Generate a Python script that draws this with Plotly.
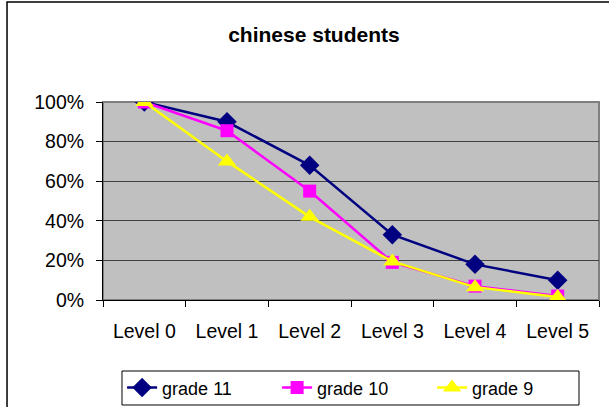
import plotly.graph_objects as go

categories = ["Level 0", "Level 1", "Level 2", "Level 3", "Level 4", "Level 5"]
grade11 = [100, 90, 68, 33, 18, 10]
grade10 = [100, 85.5, 55, 19, 7, 2]
grade9 = [100, 70, 42, 19.5, 6.5, 1.5]
y_ticks = [0, 20, 40, 60, 80, 100]
y_labels = ["0%", "20%", "40%", "60%", "80%", "100%"]

fig = go.Figure()
fig.add_trace(go.Scatter(x=categories, y=grade11, name="grade 11", mode="lines+markers",
                         line=dict(color="#000080", width=2.5),
                         marker=dict(symbol="diamond", size=15, color="#000080")))
fig.add_trace(go.Scatter(x=categories, y=grade10, name="grade 10", mode="lines+markers",
                         line=dict(color="#FF00FF", width=2.5),
                         marker=dict(symbol="square", size=13, color="#FF00FF")))
fig.add_trace(go.Scatter(x=categories, y=grade9, name="grade 9", mode="lines+markers",
                         line=dict(color="#FFFF00", width=2.5),
                         marker=dict(symbol="triangle-up", size=16, color="#FFFF00")))

fig.update_layout(
    width=609, height=407,
    margin=dict(l=103, r=10, t=102, b=107, autoexpand=False),
    paper_bgcolor="white", plot_bgcolor="#C0C0C0",
    font=dict(family="Liberation Sans, Arial", size=19.5, color="black"),
    title=dict(text="<b>chinese students</b>", x=0.5155, xanchor="center", y=0.916, yanchor="middle",
               font=dict(size=21)),
    legend=dict(orientation="h", x=0.0385, xanchor="left", y=-0.35, yanchor="top",
                borderwidth=0, bgcolor="rgba(0,0,0,0)",
                font=dict(size=18), tracegroupgap=0, entrywidth=110),
    showlegend=True,
)
fig.update_xaxes(type="category", tickson="boundaries", ticks="outside", ticklen=6,
                 tickcolor="black", showgrid=False, showline=True, linecolor="black",
                 linewidth=1, mirror=False, range=[-0.5, 5.5], ticklabelstandoff=14)
fig.update_yaxes(range=[0, 100], tickvals=y_ticks, ticktext=y_labels, ticks="outside",
                 ticklen=6, tickcolor="black", showgrid=True, gridcolor="#404040",
                 gridwidth=1, showline=True, linecolor="black", linewidth=1,
                 zeroline=False, ticklabelstandoff=8)

# plot area border (gray)
fig.add_shape(type="rect", xref="paper", yref="paper", x0=0, y0=0, x1=1, y1=1,
              line=dict(color="#808080", width=2), layer="below")
# outer chart frame
fig.add_shape(type="rect", xref="paper", yref="paper", x0=-0.1935, y0=-0.6, x1=1.04, y1=1.505,
              line=dict(color="black", width=1.5), fillcolor="rgba(0,0,0,0)")
# legend box
fig.add_shape(type="rect", xref="paper", yref="paper", x0=0.0383, y0=-0.5303, x1=0.9597, y1=-0.3586,
              line=dict(color="black", width=1), fillcolor="rgba(0,0,0,0)")

fig.write_html("out.html")
